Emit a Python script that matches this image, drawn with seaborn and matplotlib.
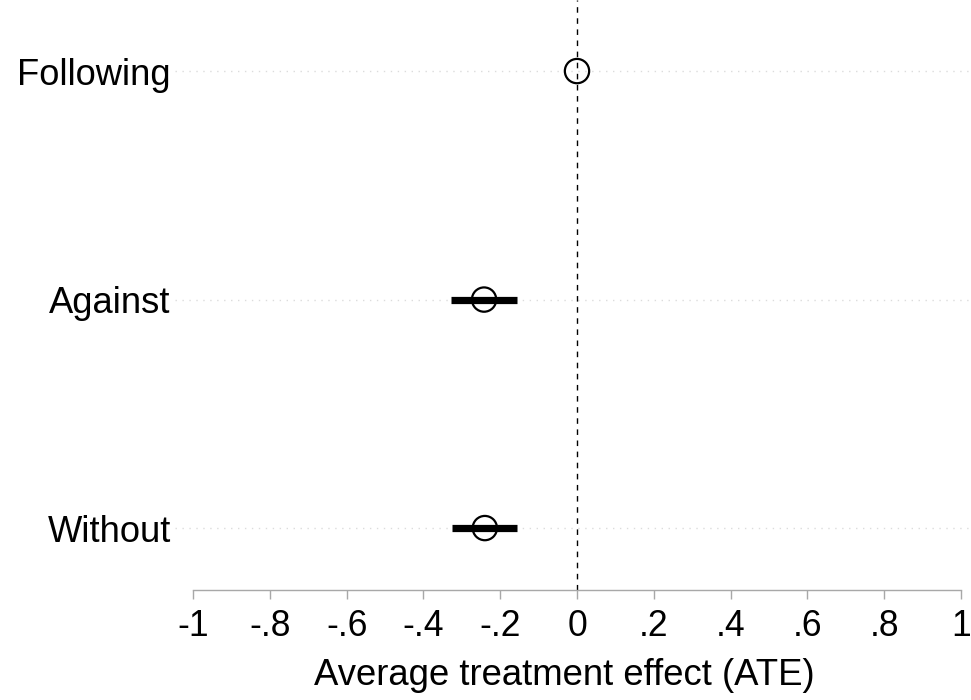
import matplotlib
matplotlib.use("Agg")
import matplotlib.pyplot as plt
import seaborn as sns
import pandas as pd

# Data
categories = ["Following", "Against", "Without"]
ate = [0.0, -0.242, -0.240]
ci_low = [0.0, -0.328, -0.325]
ci_high = [0.0, -0.157, -0.156]
xticks = [-1, -0.8, -0.6, -0.4, -0.2, 0, 0.2, 0.4, 0.6, 0.8, 1]
xtick_labels = ["-1", "-.8", "-.6", "-.4", "-.2", "0", ".2", ".4", ".6", ".8", "1"]
xlabel = "Average treatment effect (ATE)"

df = pd.DataFrame({"cat": categories, "ate": ate, "lo": ci_low, "hi": ci_high})

sns.set_theme(style="white")
plt.rcParams["font.family"] = ["Liberation Sans", "DejaVu Sans"]

fig = plt.figure(figsize=(9.71, 7.0), dpi=100)
ax = fig.add_axes([193 / 971, 110 / 700, 768 / 971, 590 / 700])

ypos = list(range(len(categories)))

# light dotted gridlines at each category
for y in ypos:
    ax.axhline(y, xmin=-0.023, xmax=1.02, color="#dcdcdc", lw=1.0,
               ls=(0, (1, 4)), clip_on=False, zorder=0)

# reference line at zero
ax.axvline(0, color="black", lw=1.0, ls=(0, (4, 4)), zorder=1)

# confidence intervals
ax.hlines(ypos, df["lo"], df["hi"], color="black", lw=5.2, capstyle="butt", zorder=2)

# point estimates
sns.scatterplot(data=df, x="ate", y="cat", ax=ax, marker="o", s=17.5 ** 2,
                facecolors="none", edgecolor="black", linewidth=1.6, zorder=3)

ax.set_xlim(-1, 1)
ax.set_ylim(2.271, -0.311)
ax.set_xticks(xticks)
ax.set_xticklabels(xtick_labels)
ax.set_yticks(ypos)
ax.set_yticklabels(categories)

for side in ["top", "right", "left"]:
    ax.spines[side].set_visible(False)
ax.spines["bottom"].set_color("#a8a8a8")
ax.spines["bottom"].set_linewidth(1.0)

ax.tick_params(axis="x", length=6.5, width=1.0, color="#a8a8a8", pad=7,
               labelsize=25.6, labelcolor="black", direction="out", bottom=True)
ax.tick_params(axis="y", length=0, pad=16, labelsize=26.2, labelcolor="black")

ax.set_xlabel(xlabel, fontsize=26.3, color="black")
ax.xaxis.set_label_coords(0.484, -0.116)
ax.set_ylabel("")

fig.savefig("out.png", dpi=100, facecolor="white")
